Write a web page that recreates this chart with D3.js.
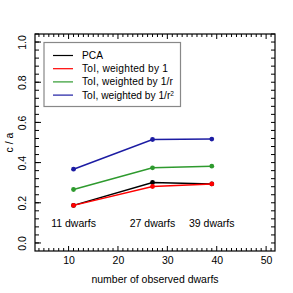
<!DOCTYPE html>
<html>
  <head>
    <meta charset="utf-8">
    <title>c / a versus number of observed dwarfs</title>
    <script src="https://d3js.org/d3.v7.min.js"></script>
    <style>
      body { margin: 0; background: #fff; }
      svg { display: block; font-family: "Liberation Sans", Arial, sans-serif; }
      .tick text { font-size: 10.5px; fill: #000; }
    </style>
  </head>
  <body>
    <svg id="chart" width="293" height="293"></svg>
    <script>
      // data
      const dwarfs = [11, 27, 39];
      const pca = [0.187, 0.301, 0.294];
      const tolOne = [0.187, 0.281, 0.294];
      const tolR = [0.266, 0.374, 0.382];
      const tolR2 = [0.367, 0.515, 0.517];
      const seriesNames = ["PCA", "ToI, weighted by 1", "ToI, weighted by 1/r", "ToI, weighted by 1/r"];
      const seriesColors = ["#000000", "#ff0000", "#2e9a2e", "#1c1ca3"];
      const dwarfLabels = ["11 dwarfs", "27 dwarfs", "39 dwarfs"];
      const xTicks = [10, 20, 30, 40, 50];
      const yTicks = [0, 0.2, 0.4, 0.6, 0.8, 1.0];

      const series = [pca, tolOne, tolR, tolR2];

      const svg = d3.select("#chart");
      const margin = { top: 34, right: 18, bottom: 42, left: 35 };
      const width = 293, height = 293;

      // R style 4% axis extension
      const x = d3.scaleLinear().domain([3.2, 51.8]).range([margin.left, width - margin.right]);
      const y = d3.scaleLinear().domain([-0.04, 1.04]).range([height - margin.bottom, margin.top]);

      const xMinor = d3.range(4, 52, 1);
      const yMinor = d3.range(0, 1.041, 0.04);

      // minor ticks on all four sides, pointing inward
      const frame = svg.append("g").attr("stroke", "#000").attr("stroke-width", 1);
      xMinor.forEach(function(v) {
        const major = v % 10 === 0;
        const len = major ? 5 : 3;
        frame.append("line").attr("x1", x(v)).attr("x2", x(v))
          .attr("y1", y.range()[0]).attr("y2", y.range()[0] - len);
        frame.append("line").attr("x1", x(v)).attr("x2", x(v))
          .attr("y1", y.range()[1]).attr("y2", y.range()[1] + len);
      });
      yMinor.forEach(function(v) {
        const len = 4;
        frame.append("line").attr("y1", y(v)).attr("y2", y(v))
          .attr("x1", x.range()[0]).attr("x2", x.range()[0] + len);
        frame.append("line").attr("y1", y(v)).attr("y2", y(v))
          .attr("x1", x.range()[1]).attr("x2", x.range()[1] - len);
      });
      yTicks.forEach(function(v) {
        frame.append("line").attr("y1", y(v)).attr("y2", y(v))
          .attr("x1", x.range()[0]).attr("x2", x.range()[0] + 6);
      });

      // axes with labels only
      const xAxis = d3.axisBottom(x).tickValues(xTicks).tickSize(0).tickPadding(6).tickFormat(d3.format("d"));
      svg.append("g")
        .attr("transform", "translate(0," + y.range()[0] + ")")
        .call(xAxis)
        .call(function(g) { g.select(".domain").remove(); });

      const yAxis = d3.axisLeft(y).tickValues(yTicks).tickSize(0).tickPadding(0).tickFormat(d3.format(".1f"));
      const yg = svg.append("g")
        .attr("transform", "translate(" + x.range()[0] + ",0)")
        .call(yAxis)
        .call(function(g) { g.select(".domain").remove(); });
      yg.selectAll(".tick text")
        .attr("transform", "translate(-13,0) rotate(-90)")
        .attr("x", 0).attr("dy", "0.35em")
        .attr("text-anchor", "middle");

      // plot box
      svg.append("rect")
        .attr("x", x.range()[0]).attr("y", y.range()[1])
        .attr("width", x.range()[1] - x.range()[0])
        .attr("height", y.range()[0] - y.range()[1])
        .attr("fill", "none").attr("stroke", "#000").attr("stroke-width", 1.2);

      // axis titles
      svg.append("text")
        .attr("x", (x.range()[0] + x.range()[1]) / 2).attr("y", 283)
        .attr("text-anchor", "middle").attr("font-size", 10.5)
        .text("number of observed dwarfs");
      svg.append("text")
        .attr("transform", "translate(13," + (y.range()[0] + y.range()[1]) / 2 + ") rotate(-90)")
        .attr("text-anchor", "middle").attr("font-size", 10.5)
        .text("c / a");

      // lines and points
      const line = d3.line()
        .x(function(d, i) { return x(dwarfs[i]); })
        .y(function(d) { return y(d); });
      series.forEach(function(s, k) {
        svg.append("path").datum(s)
          .attr("d", line)
          .attr("fill", "none")
          .attr("stroke", seriesColors[k])
          .attr("stroke-width", 1.5);
        svg.selectAll(null).data(s).enter().append("circle")
          .attr("cx", function(d, i) { return x(dwarfs[i]); })
          .attr("cy", function(d) { return y(d); })
          .attr("r", 2.4)
          .attr("fill", seriesColors[k]);
      });

      // dwarf count labels
      svg.selectAll(null).data(dwarfLabels).enter().append("text")
        .attr("x", function(d, i) { return x(dwarfs[i]); })
        .attr("y", y(0.1))
        .attr("dy", "0.35em")
        .attr("text-anchor", "middle")
        .attr("font-size", 10.5)
        .text(function(d) { return d; });

      // legend
      const legend = svg.append("g");
      legend.append("rect")
        .attr("x", 44).attr("y", 42.5)
        .attr("width", 136.5).attr("height", 64)
        .attr("fill", "#fff").attr("stroke", "#888").attr("stroke-width", 1.2);
      seriesNames.forEach(function(name, k) {
        const ly = 55.5 + k * 13.2;
        legend.append("line")
          .attr("x1", 53).attr("x2", 73)
          .attr("y1", ly).attr("y2", ly)
          .attr("stroke", seriesColors[k]).attr("stroke-width", 1.2);
        const t = legend.append("text")
          .attr("x", 82).attr("y", ly).attr("dy", "0.35em")
          .attr("font-size", 10.2)
          .attr("textLength", k === 0 ? null : (k === 1 ? 86 : 91))
          .text(name);
        if (k === 3) {
          t.attr("textLength", null);
          t.append("tspan").attr("baseline-shift", "super").attr("font-size", 6.5).text("2");
        }
      });
    </script>
  </body>
</html>
